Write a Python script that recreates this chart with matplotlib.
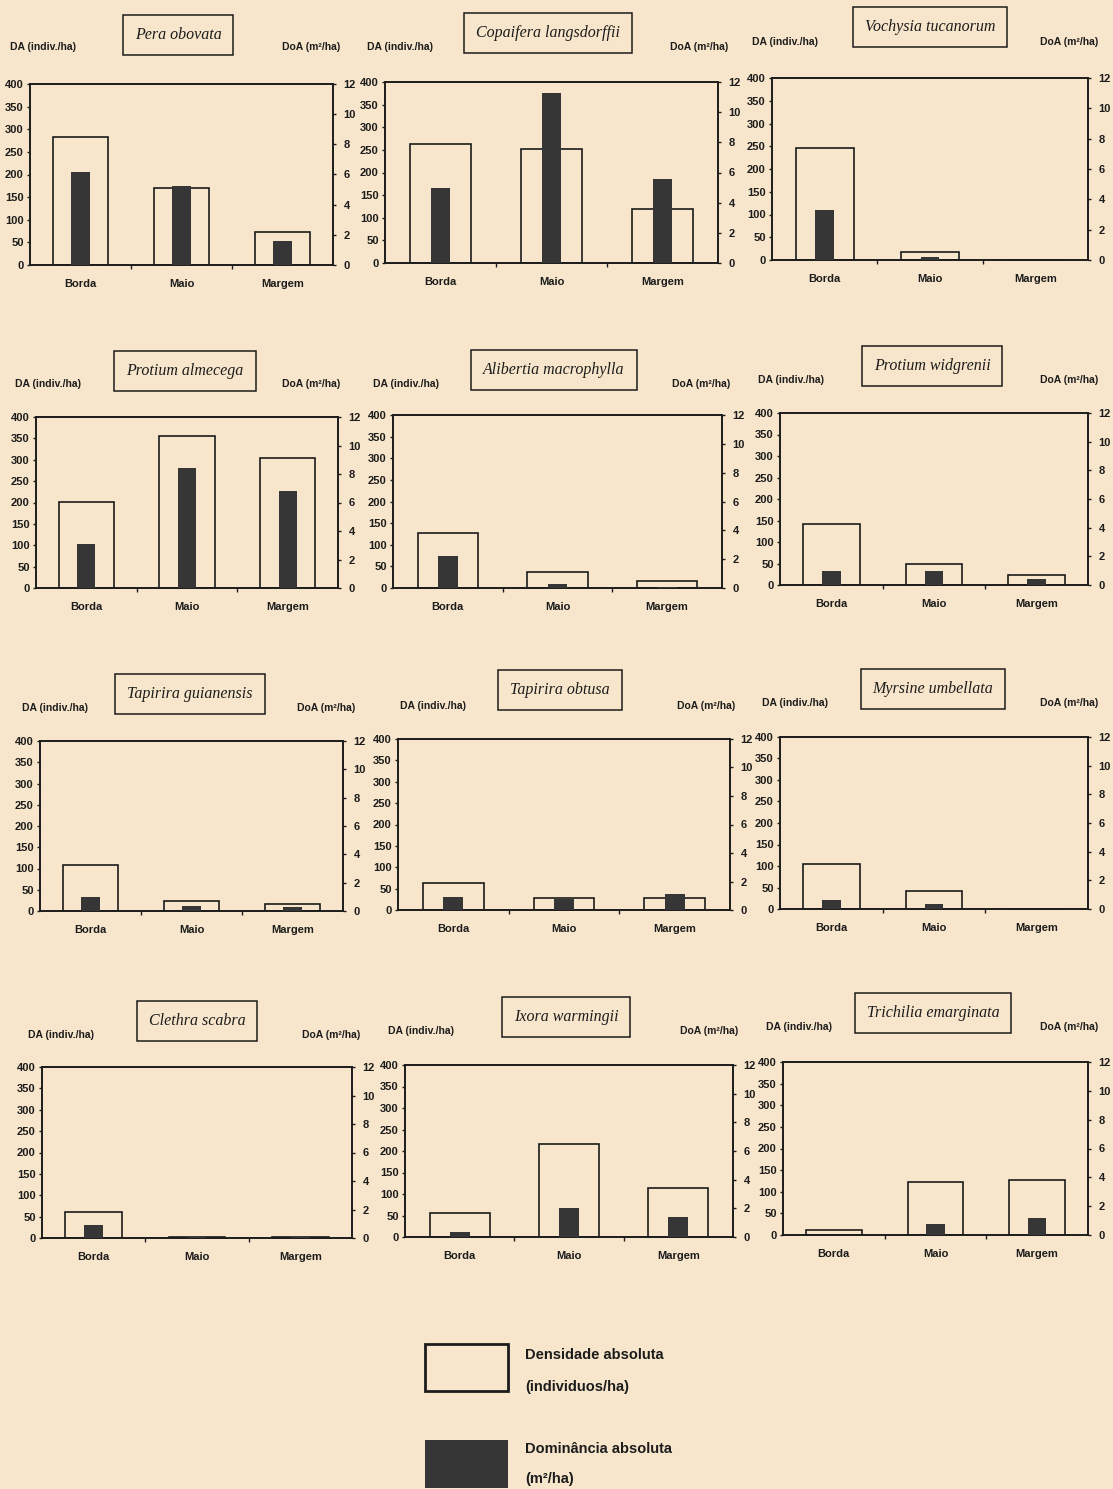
import matplotlib
matplotlib.use("Agg")
import matplotlib.pyplot as plt
from matplotlib.patches import Rectangle

# ---------------- data ----------------
categories = ["Borda", "Maio", "Margem"]

species = ["Pera obovata", "Copaifera langsdorffii", "Vochysia tucanorum",
           "Protium almecega", "Alibertia macrophylla", "Protium widgrenii",
           "Tapirira guianensis", "Tapirira obtusa", "Myrsine umbellata",
           "Clethra scabra", "Ixora warmingii", "Trichilia emarginata"]

# Densidade absoluta (indiv./ha)
da_pera = [282, 170, 72]
da_copaifera = [264, 253, 119]
da_vochysia = [246, 18, 0]
da_almecega = [202, 356, 303]
da_alibertia = [128, 38, 16]
da_widgrenii = [143, 49, 23]
da_guianensis = [108, 24, 16]
da_obtusa = [63, 27, 28]
da_myrsine = [104, 42, 0]
da_clethra = [60, 2, 2]
da_ixora = [55, 217, 115]
da_trichilia = [12, 122, 128]

# Dominancia absoluta (m2/ha)
doa_pera = [6.15, 5.25, 1.6]
doa_copaifera = [5.0, 11.3, 5.6]
doa_vochysia = [3.3, 0.2, 0.0]
doa_almecega = [3.1, 8.4, 6.8]
doa_alibertia = [2.25, 0.3, 0.1]
doa_widgrenii = [0.95, 0.95, 0.45]
doa_guianensis = [1.0, 0.35, 0.25]
doa_obtusa = [0.9, 0.8, 1.1]
doa_myrsine = [0.65, 0.35, 0.0]
doa_clethra = [0.9, 0.05, 0.04]
doa_ixora = [0.35, 2.0, 1.4]
doa_trichilia = [0.0, 0.75, 1.2]

da_all = [da_pera, da_copaifera, da_vochysia, da_almecega, da_alibertia,
          da_widgrenii, da_guianensis, da_obtusa, da_myrsine, da_clethra,
          da_ixora, da_trichilia]
doa_all = [doa_pera, doa_copaifera, doa_vochysia, doa_almecega, doa_alibertia,
           doa_widgrenii, doa_guianensis, doa_obtusa, doa_myrsine, doa_clethra,
           doa_ixora, doa_trichilia]

da_ticks = list(range(0, 401, 50))
doa_ticks = list(range(0, 13, 2))

# ---------------- layout (pixels) ----------------
W, H = 1113, 1489
# axes: left, right, top, bottom
axes_px = [(30, 333, 84, 265), (385, 718, 82, 263), (772, 1088, 78, 260),
           (36, 338, 417, 588), (393, 722, 415, 588), (780, 1088, 413, 585),
           (40, 343, 741, 911), (398, 730, 739, 910), (780, 1088, 737, 909),
           (42, 352, 1067, 1238), (405, 733, 1065, 1237), (783, 1088, 1062, 1235)]
# title center x,y ; DA label left x,y ; DoA label right x,y
label_px = [((178, 35), (10, 47), (340, 47)),
            ((548, 33), (367, 47), (728, 47)),
            ((930, 27), (752, 42), (1098, 42)),
            ((185, 371), (15, 384), (340, 384)),
            ((554, 370), (373, 384), (730, 384)),
            ((932, 366), (758, 380), (1098, 380)),
            ((190, 694), (22, 708), (355, 708)),
            ((560, 690), (400, 706), (735, 706)),
            ((933, 689), (762, 703), (1098, 703)),
            ((197, 1021), (28, 1035), (360, 1035)),
            ((566, 1017), (388, 1031), (738, 1031)),
            ((933, 1013), (766, 1027), (1098, 1027))]

BG = "#f7e6cb"
DARK = "#363636"
INK = "#1c1c1c"
SANS = ["Liberation Sans Narrow", "Liberation Sans", "DejaVu Sans"]
SERIF = ["Liberation Serif", "DejaVu Serif"]

plt.rcParams["font.family"] = SANS

fig = plt.figure(figsize=(W / 100, H / 100), dpi=100, facecolor=BG)

def fx(x):
    return x / W

def fy(y):
    return 1 - y / H

xs = list(range(len(categories)))

for i, name in enumerate(species):
    l, r, t, b = axes_px[i]
    ax = fig.add_axes([fx(l), fy(b), (r - l) / W, (b - t) / H])
    ax.set_facecolor("none")
    ax.bar(xs, da_all[i], width=0.55, facecolor="none", edgecolor=INK,
           linewidth=1.2, zorder=2)
    ax.set_xlim(-0.5, 2.5)
    ax.set_ylim(0, 400)
    ax.set_yticks(da_ticks)
    ax.set_yticklabels([str(v) for v in da_ticks], fontsize=8,
                       fontweight="bold")
    ax.set_xticks(xs)
    ax.set_xticklabels(categories, fontsize=8, fontweight="bold")
    ax.set_xticks([0.5, 1.5], minor=True)
    ax.tick_params(axis="x", which="major", length=0, pad=10, colors=INK)
    ax.tick_params(axis="x", which="minor", length=3, direction="out",
                   width=1, color=INK)
    ax.tick_params(axis="y", length=2.5, width=1, direction="out", pad=2,
                   colors=INK)

    ax2 = ax.twinx()
    ax2.bar(xs, doa_all[i], width=0.18, color=DARK, edgecolor="none",
            zorder=3)
    ax2.set_ylim(0, 12)
    ax2.set_yticks(doa_ticks)
    ax2.set_yticklabels([str(v) for v in doa_ticks], fontsize=8,
                        fontweight="bold")
    ax2.tick_params(axis="y", length=2.5, width=1, direction="out", pad=5,
                    colors=INK)
    for a in (ax, ax2):
        for s in a.spines.values():
            s.set_color(INK)
            s.set_linewidth(1.2)

    (tx, ty), (dax, day), (dox, doy) = label_px[i]
    fig.text(fx(tx), fy(ty), name, family=SERIF, style="italic",
             fontsize=11.5, ha="center", va="center", color=INK,
             bbox=dict(boxstyle="square,pad=0.75", facecolor="none",
                       edgecolor=INK, linewidth=1.1))
    fig.text(fx(dax), fy(day), "DA (indiv./ha)", fontsize=7.5,
             fontweight="bold", ha="left", va="center", color=INK)
    fig.text(fx(dox), fy(doy), "DoA (m²/ha)", fontsize=7.5,
             fontweight="bold", ha="right", va="center", color=INK)

# ---------------- legend ----------------
fig.add_artist(Rectangle((fx(425), fy(1391)), 83 / W, 47 / H,
                         transform=fig.transFigure, facecolor="none",
                         edgecolor=INK, linewidth=2))
fig.add_artist(Rectangle((fx(425), fy(1488)), 83 / W, 48 / H,
                         transform=fig.transFigure, facecolor=DARK,
                         edgecolor="none"))
leg_font = ["Liberation Sans", "DejaVu Sans"]
fig.text(fx(525), fy(1355), "Densidade absoluta", family=leg_font,
         fontsize=10.5, fontweight="bold", va="center", color=INK)
fig.text(fx(525), fy(1387), "(individuos/ha)", family=leg_font,
         fontsize=10.5, fontweight="bold", va="center", color=INK)
fig.text(fx(525), fy(1449), "Dominância absoluta", family=leg_font,
         fontsize=10.5, fontweight="bold", va="center", color=INK)
fig.text(fx(525), fy(1479), "(m²/ha)", family=leg_font,
         fontsize=10.5, fontweight="bold", va="center", color=INK)

fig.savefig("out.png", dpi=100, facecolor=BG)
